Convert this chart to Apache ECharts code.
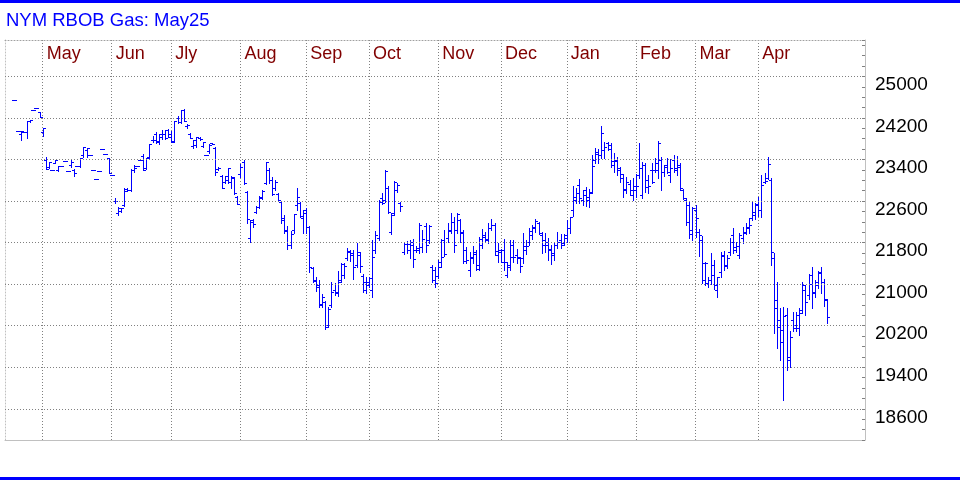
<!DOCTYPE html>
<html>
<head>
<meta charset="utf-8">
<title>NYM RBOB Gas: May25</title>
<script src="https://cdn.jsdelivr.net/npm/echarts@6/dist/echarts.min.js"></script>
<style>
  html, body { margin: 0; padding: 0; background: #fff; }
  #chart { width: 960px; height: 480px; }
</style>
</head>
<body>
<div id="chart"></div>
<script>
// trading-day slots across the plot, first bar sits in slot 3
const slotCount = 275;
const firstBar = 3;
const monthNames = ['May', 'Jun', 'Jly', 'Aug', 'Sep', 'Oct', 'Nov', 'Dec', 'Jan', 'Feb', 'Mar', 'Apr'];
const monthSlots = [12, 34, 53, 75, 96, 116, 138, 158, 179, 201, 220, 240];
const priceTicks = [18600, 19400, 20200, 21000, 21800, 22600, 23400, 24200, 25000];

const opens = [
  24540,23940,23890,23920,23920,24140,24350,24400,24310,23920,
  23390,23250,23190,23330,23190,23270,23370,23170,23290,23190,
  23270,23270,23480,23580,23480,23190,23020,23170,23600,23500,
  23420,23100,22600,22370,22410,22520,22830,22810,23190,23270,
  23390,23460,23230,23440,23770,23890,23730,23830,23900,23960,
  23900,23750,24190,24120,24350,24040,23890,23650,23670,23810,
  23650,23480,23560,23710,23620,23210,23080,22960,23000,22960,
  23040,22680,23120,23350,22770,21890,22230,22390,22480,22660,
  22940,23190,23000,22850,22730,22580,22270,22040,21750,22040,
  22520,22560,22270,22430,22100,21310,21080,20980,20600,20660,
  20210,20600,20890,20830,21080,21180,21500,21620,21600,21370,
  21560,21160,20890,20980,20890,21660,21890,22650,22620,22850,
  22000,22370,22810,22560,21620,21770,21660,21750,21660,21660,
  21710,22120,21850,21330,21270,21160,21430,21850,21890,22040,
  22190,22040,22230,22000,21660,21270,21500,21620,21370,21750,
  21940,21850,22080,22140,21560,21620,21660,21180,21370,21750,
  21560,21500,21500,21660,21810,21940,22080,22180,21940,21850,
  21810,21660,21560,21750,21850,21790,21890,22080,22430,22620,
  22910,22620,22810,22620,22770,23390,23540,23480,23580,23710,
  23670,23290,23390,23190,23040,22810,22930,22710,22810,23100,
  22710,23290,23000,23190,23190,23190,23390,23160,23290,23100,
  23390,23190,23290,22810,22620,22520,22040,22430,22000,21850,
  21080,21020,21080,21370,20890,21230,21560,21370,21620,21940,
  21660,21560,21890,22000,22080,22270,22330,22520,22430,22960,
  23040,23000,21500,20700,20310,20120,20410,19540,20310,20160,
  20160,20500,20890,20790,21180,20850,20980,21230,21040,20700
];
const highs = [
  24540,23940,23940,23920,24140,24160,24350,24400,24310,24000,
  23440,23350,23190,23390,23270,23270,23370,23170,23390,23210,
  23270,23420,23640,23620,23480,23190,23020,23170,23600,23500,
  23420,23100,22660,22480,22460,22850,22850,23210,23290,23270,
  23390,23500,23420,23690,23850,23920,23890,23960,23960,23980,
  23940,24150,24230,24350,24370,24080,23910,23770,23830,23830,
  23730,23480,23690,23710,23640,23250,23100,23080,23230,23080,
  23060,22690,23310,23390,22790,22230,22250,22500,22690,22810,
  23350,23230,23060,23000,22750,22600,22330,22120,22020,22350,
  22850,22580,22430,22460,22120,21330,21140,21080,20810,20680,
  20560,21040,21020,21250,21410,21410,21700,21660,21660,21790,
  21620,21200,21140,21140,21850,22020,22620,22750,23190,22890,
  22370,22980,22940,22580,21810,21830,21850,21870,21730,22180,
  22040,22180,22140,21370,21330,21460,21870,22040,22180,22370,
  22290,22370,22250,22040,21710,21620,21730,21660,21910,22060,
  22000,22180,22250,22180,21790,21670,21870,21430,21850,21850,
  21680,21520,21980,21850,22080,22140,22250,22190,22000,21980,
  21890,21750,21810,22000,21960,21960,22230,22290,22890,22850,
  23020,22810,22870,22830,23480,23620,23600,24040,23730,23730,
  23710,23520,23440,23250,23120,23060,23000,23040,23120,23710,
  23350,23330,23100,23330,23420,23750,23440,23290,23420,23400,
  23480,23460,23330,22830,22660,22580,22480,22520,22060,21930,
  21430,21140,21600,21460,21140,21620,21640,21560,21890,22080,
  21810,21980,22100,22180,22270,22580,22560,22680,23100,23140,
  23440,23040,21600,21040,20540,20560,20540,20100,20470,20470,
  20540,21040,20980,21200,21330,21080,21250,21330,21100,20710
];
const lows = [
  24540,23940,23770,23920,23810,24120,24350,24400,24210,23850,
  23210,23230,23190,23330,23170,23270,23370,23170,23250,23080,
  23270,23250,23440,23440,23480,23190,23020,23170,23600,23500,
  23140,23100,22560,22330,22390,22500,22790,22790,23160,23270,
  23390,23190,23210,23420,23730,23710,23690,23790,23790,23830,
  23730,23730,24100,24100,24140,24000,23810,23620,23640,23770,
  23640,23480,23520,23690,23100,23190,22850,22940,22940,22850,
  22730,22540,23060,22930,22170,21810,22100,22370,22460,22640,
  22920,22940,22710,22810,22600,22170,21980,21680,21690,21980,
  22430,22290,21980,21980,21230,21040,20870,20560,20560,20140,
  20180,20560,20790,20770,21040,21120,21460,21450,21100,21330,
  21230,20850,20830,20950,20750,21600,21850,22540,22580,22370,
  21960,22330,22770,22410,21580,21600,21500,21330,21620,21600,
  21620,21620,21790,21040,20950,21120,21330,21540,21810,21980,
  21620,21980,21810,21410,21410,21160,21410,21270,21270,21690,
  21810,21790,22040,21560,21430,21430,21270,21140,21270,21430,
  21410,21230,21410,21580,21750,21870,22000,21960,21600,21620,
  21460,21390,21460,21690,21690,21750,21810,21980,22310,22560,
  22560,22520,22500,22480,22750,23330,23330,23420,23420,23580,
  23250,23150,23100,22960,22680,22750,22710,22620,22680,23040,
  22650,22770,22750,22940,23150,23040,22810,23080,23140,22960,
  23150,23100,22810,22640,22140,21890,21850,21910,21540,21020,
  20980,20950,21000,20910,20750,21140,21270,21310,21560,21600,
  21620,21500,21790,21960,21980,22230,22250,22310,22290,22940,
  23020,21370,20060,19770,19540,18770,19350,19410,20100,20100,
  20020,20450,20410,20710,20540,20750,20930,20830,20580,20250
];
const closes = [
  24540,23940,23940,23920,24140,24160,24350,24400,24210,24000,
  23210,23350,23190,23390,23270,23270,23370,23170,23350,23140,
  23270,23420,23640,23620,23480,23190,23020,23170,23600,23500,
  23140,23100,22600,22460,22460,22790,22810,23190,23230,23270,
  23390,23190,23420,23690,23770,23750,23890,23900,23810,23830,
  23730,24140,24120,24350,24140,24060,23810,23770,23830,23790,
  23730,23480,23670,23690,23150,23230,22850,23080,23230,23060,
  22750,22540,23250,22940,22250,22190,22160,22480,22680,22790,
  23350,23000,22730,22960,22620,22230,22020,21750,21960,22350,
  22680,22310,22370,22100,21330,21060,20950,20620,20750,20180,
  20520,20850,20850,21040,21390,21350,21640,21560,21330,21620,
  21350,21040,21040,21120,21520,21940,22580,22560,23170,22390,
  22330,22960,22910,22500,21770,21770,21810,21480,21690,22140,
  21870,21750,22120,21080,21020,21330,21520,21580,22020,22190,
  21750,22350,21980,21450,21460,21520,21580,21290,21870,21910,
  21870,22080,22140,21640,21660,21430,21430,21330,21520,21520,
  21520,21350,21730,21730,22020,22100,22210,21980,21750,21750,
  21680,21600,21750,21810,21750,21940,22080,22290,22680,22750,
  22650,22710,22680,22750,23270,23500,23480,23910,23640,23600,
  23370,23370,23230,23130,22840,22960,22810,22890,22890,23230,
  23290,22870,22890,22960,23330,23710,23160,23250,23160,23230,
  23230,23250,22850,22660,22190,21960,22460,22270,21940,21410,
  21400,21080,21180,20980,21130,21540,21350,21500,21810,21710,
  21730,21940,21980,22100,22140,22390,22540,22430,22900,22980,
  23310,21620,20540,20180,19890,20390,19600,19990,20210,20410,
  20450,20980,20660,21000,20830,21040,21210,21040,20710,20370
];

const slots = Array.from({ length: slotCount }, (_, i) => String(i));
const bars = opens.map((o, k) => [firstBar + k, o, highs[k], lows[k], closes[k]]);

const isMonthStart = (index) => monthSlots.indexOf(index) >= 0;

// one OHLC bar: high-low stick, open tick left, close tick right
function renderBar(params, api) {
  const slot = api.value(0);
  const hi = api.coord([slot, api.value(2)]);
  const lo = api.coord([slot, api.value(3)]);
  const op = api.coord([slot, api.value(1)]);
  const cl = api.coord([slot, api.value(4)]);
  const px = Math.round(hi[0]);
  const x = px + 0.5;
  const yo = Math.round(op[1]) + 0.5;
  const yc = Math.round(cl[1]) + 0.5;
  const style = { stroke: '#0000ff', lineWidth: 1 };
  return {
    type: 'group',
    children: [
      { type: 'line', shape: { x1: x, y1: Math.round(hi[1]), x2: x, y2: Math.round(lo[1]) + 1 }, style: style },
      { type: 'line', shape: { x1: px - 2, y1: yo, x2: px + 1, y2: yo }, style: style },
      { type: 'line', shape: { x1: px, y1: yc, x2: px + 3, y2: yc }, style: style }
    ]
  };
}

const chart = echarts.init(document.getElementById('chart'), null, { renderer: 'canvas' });
chart.setOption({
  animation: false,
  backgroundColor: '#ffffff',
  textStyle: { fontFamily: 'Liberation Sans, Arial, sans-serif' },
  title: {
    text: 'NYM RBOB Gas: May25',
    left: 6,
    top: 11,
    padding: 0,
    textStyle: { color: '#0000ff', fontSize: 18.5, fontWeight: 'normal' }
  },
  graphic: [
    { type: 'rect', left: 0, top: 0, shape: { width: 960, height: 3 }, style: { fill: '#0000ff' } },
    { type: 'rect', left: 0, top: 477, shape: { width: 960, height: 3 }, style: { fill: '#0000ff' } }
  ],
  grid: { left: 5, right: 95, top: 40, bottom: 40 },
  xAxis: [
    {
      type: 'category',
      position: 'top',
      data: slots,
      boundaryGap: false,
      axisLine: { show: true, lineStyle: { color: '#a0a0a0', type: [1, 2] } },
      axisTick: { show: false },
      axisLabel: {
        inside: true,
        interval: (index) => isMonthStart(index),
        formatter: (value) => monthNames[monthSlots.indexOf(Number(value))] || '',
        color: '#800000',
        fontSize: 18,
        align: 'left',
        verticalAlign: 'top',
        margin: 5,
        padding: [0, 0, 0, 4]
      },
      splitLine: {
        show: true,
        interval: (index) => isMonthStart(index),
        lineStyle: { color: '#808080', type: [1, 2] }
      }
    },
    {
      type: 'category',
      position: 'bottom',
      data: slots,
      boundaryGap: false,
      axisLine: { show: true, lineStyle: { color: '#c0c0c0' } },
      axisTick: { show: false },
      axisLabel: { show: false },
      splitLine: { show: false }
    }
  ],
  yAxis: [
    {
      type: 'value',
      position: 'right',
      min: 18000,
      max: 25700,
      interval: 200,
      axisLine: { show: true, lineStyle: { color: '#c0c0c0' } },
      axisTick: { show: true, inside: true, length: 3, lineStyle: { color: '#808080' } },
      axisLabel: {
        formatter: (v) => (priceTicks.indexOf(v) >= 0 ? String(v) : ''),
        color: '#000000',
        fontSize: 19,
        margin: 10,
        verticalAlign: 'top',
        padding: [-1, 0, 0, 0]
      },
      splitLine: { show: false }
    },
    {
      type: 'value',
      position: 'left',
      min: 18000,
      max: 25700,
      axisLine: { show: true, lineStyle: { color: '#c0c0c0', type: [1, 2] } },
      axisTick: { show: false },
      axisLabel: { show: false },
      splitLine: { show: false }
    }
  ],
  series: [
    {
      type: 'line',
      data: [],
      silent: true,
      markLine: {
        silent: true,
        symbol: ['none', 'none'],
        label: { show: false },
        lineStyle: { color: '#808080', type: [1, 2], width: 1 },
        data: priceTicks.map((v) => ({ yAxis: v }))
      }
    },
    {
      type: 'custom',
      name: 'RBOB May25',
      xAxisIndex: 0,
      yAxisIndex: 0,
      silent: true,
      renderItem: renderBar,
      encode: { x: 0, y: [1, 2, 3, 4] },
      data: bars
    }
  ]
});
</script>
</body>
</html>
